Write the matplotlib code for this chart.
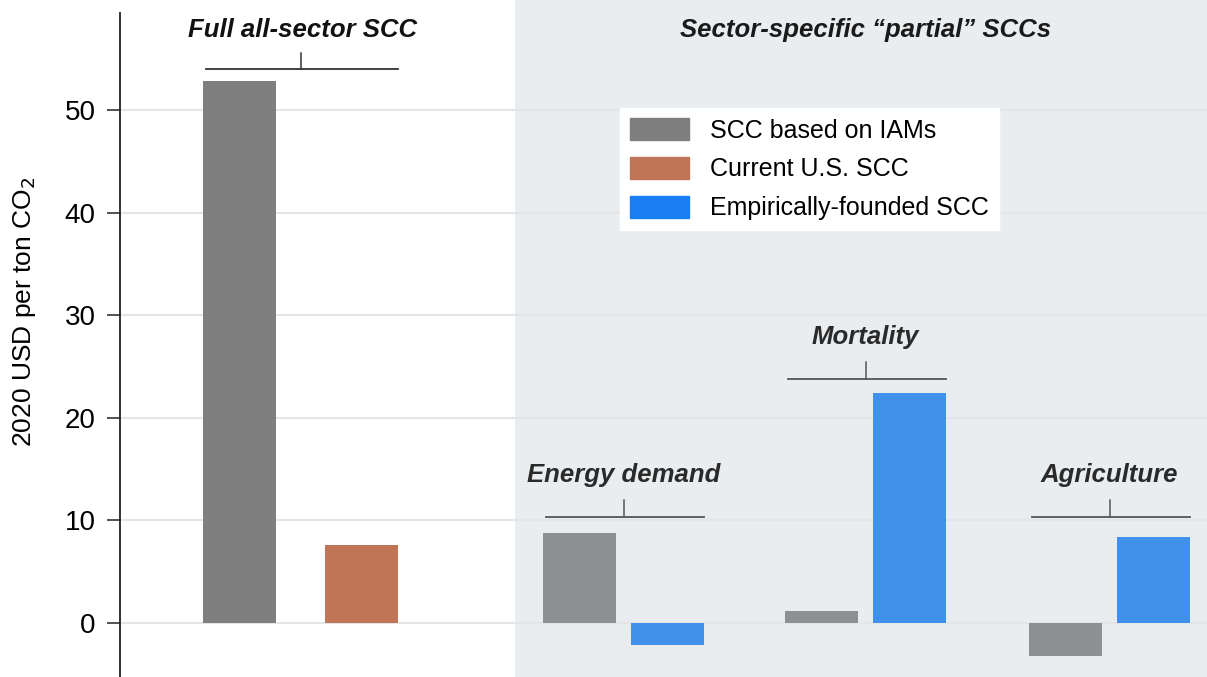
import numpy as np
import matplotlib.pyplot as plt
from matplotlib.patches import Patch

# ============================================================
# DATA
# ============================================================

groups = ["Full all-sector SCC", "Energy demand", "Mortality", "Agriculture"]
iam_scc = [52.8, 8.7, 1.1, -3.3]
us_scc = 7.6
empirical_scc = [-2.2, 22.4, 8.4]   # Energy demand, Mortality, Agriculture

legend_labels = ["SCC based on IAMs", "Current U.S. SCC", "Empirically-founded SCC"]
y_ticks = [0, 10, 20, 30, 40, 50]
y_label = "2020 USD per ton CO$_2$"
panel_titles = ["Full all-sector SCC", "Sector-specific \u201cpartial\u201d SCCs"]

# ============================================================
# LAYOUT / STYLE
# ============================================================

plt.rcParams['font.family'] = ['Liberation Sans', 'DejaVu Sans']

GREY_FULL = '#7f7f7f'
GREY_SECT = '#8d9093'
ORANGE = '#c07556'
BLUE = '#4190ea'
BLUE_LEG = '#1a7ff2'
SHADE = '#eaedef'
GRID = '#e3e5e7'

BAR_W = 73
group_x = [180.5, 503.5, 745.75, 989.5]
full_off = 61
sect_off = 44
shade_start = 395
TITLE_FS = 18.5

fig = plt.figure(figsize=(12.07, 6.77), dpi=100)
ax = fig.add_axes([120 / 1207, 0, 1087 / 1207, 1])
ax.set_xlim(0, 1087)
ax.set_ylim(-5.3, 60.73)

ax.axvspan(shade_start, 1100, color=SHADE, zorder=0, lw=0)
for t in y_ticks:
    ax.axhline(t, color=GRID, lw=1.5, zorder=1)

# ------------------------------------------------------------
# BARS
# ------------------------------------------------------------

ax.bar(group_x[0] - full_off, iam_scc[0], BAR_W, color=GREY_FULL, zorder=2)
ax.bar(group_x[0] + full_off, us_scc, BAR_W, color=ORANGE, zorder=2)

for i in range(1, 4):
    ax.bar(group_x[i] - sect_off, iam_scc[i], BAR_W, color=GREY_SECT, zorder=2)
    ax.bar(group_x[i] + sect_off, empirical_scc[i - 1], BAR_W, color=BLUE, zorder=2)

# ------------------------------------------------------------
# BRACKETS + LABELS
# ------------------------------------------------------------

brackets = [
    (group_x[0], full_off, 54.0, 55.6, '#333333'),
    (group_x[1], sect_off, 10.3, 11.95, '#555555'),
    (group_x[2], sect_off, 23.75, 25.4, '#555555'),
    (group_x[3], sect_off, 10.3, 11.95, '#555555'),
]

for (cx, off, yb, yt, col), name in zip(brackets, groups):
    x0 = cx - off - BAR_W / 2 + 3
    x1 = cx + off + BAR_W / 2
    ax.plot([x0, x1], [yb, yb], color=col, lw=1.3, zorder=3)
    ax.plot([cx, cx], [yb, yt], color=col, lw=1.1, zorder=3)
    if name != groups[0]:
        ax.text(cx, yt + 2.45, name, ha='center', va='center', fontsize=TITLE_FS,
                fontweight='bold', fontstyle='italic', color='#2a2a2a', zorder=4)

ax.text(group_x[0] + 2, 57.85, panel_titles[0], ha='center', va='center', fontsize=TITLE_FS,
        fontweight='bold', fontstyle='italic', color='#111111')
ax.text(746, 57.85, panel_titles[1], ha='center', va='center', fontsize=TITLE_FS,
        fontweight='bold', fontstyle='italic', color='#1a1a1a')

# ------------------------------------------------------------
# AXES
# ------------------------------------------------------------

for s in ['top', 'right', 'bottom']:
    ax.spines[s].set_visible(False)
ax.spines['left'].set_bounds(-5.3, 59.45)
ax.spines['left'].set_color('#222222')
ax.spines['left'].set_linewidth(1.3)
ax.set_xticks([])
ax.set_yticks(y_ticks)
ax.tick_params(axis='y', length=9.5, width=1.1, color='#222222', labelsize=20, pad=8)
ax.set_ylabel(y_label, fontsize=19)
ax.yaxis.set_label_coords(-82 / 1087, 0.54)

handles = [Patch(color=GREY_FULL), Patch(color=ORANGE), Patch(color=BLUE_LEG)]
leg = fig.legend(handles, legend_labels, loc='upper left',
                 bbox_to_anchor=(620 / 1207, 1 - 108 / 677), fontsize=18,
                 frameon=True, facecolor='white', edgecolor='white', framealpha=1,
                 fancybox=False, handlelength=2.36, handleheight=1.0,
                 labelspacing=0.56, handletextpad=0.84, borderpad=0.4,
                 borderaxespad=0)

fig.savefig('out.png', dpi=100)
